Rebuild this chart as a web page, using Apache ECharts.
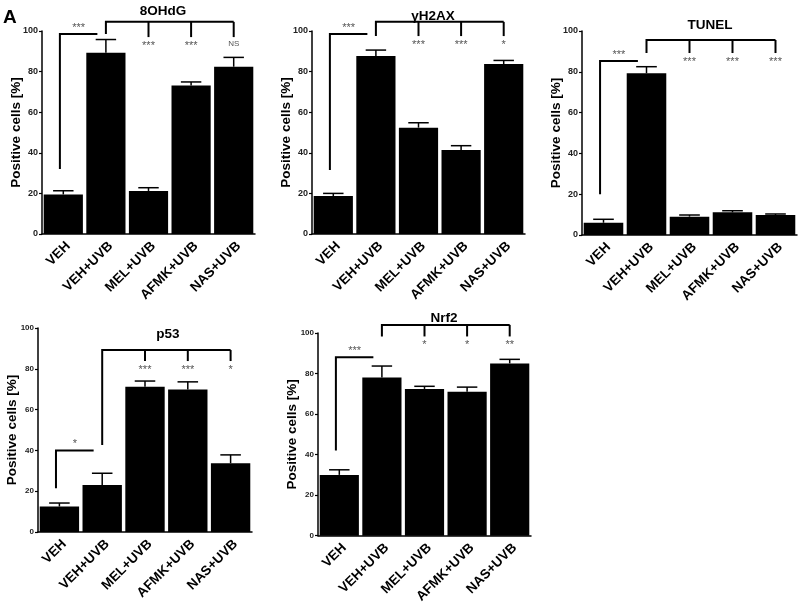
<!DOCTYPE html>
<html><head><meta charset="utf-8">
<script src="https://cdn.jsdelivr.net/npm/echarts@6/dist/echarts.min.js"></script>
<style>html,body{margin:0;padding:0;background:#fff}#c{width:800px;height:606px}</style>
</head><body><div id="c"></div>
<script>
const categories = ['VEH', 'VEH+UVB', 'MEL+UVB', 'AFMK+UVB', 'NAS+UVB'];
const yMin = 0, yMax = 100, yStep = 20;
const yName = 'Positive cells [%]';

const titles = ['8OHdG', 'γH2AX', 'TUNEL', 'p53', 'Nrf2'];

const ohdgMean = [19.5, 89.3, 21.2, 73.2, 82.4];
const ohdgSem  = [1.8, 6.5, 1.6, 1.7, 4.6];
const h2axMean = [18.7, 87.7, 52.4, 41.4, 83.7];
const h2axSem  = [1.3, 2.9, 2.4, 2.1, 1.8];
const tunelMean = [6.0, 79.3, 9.0, 11.1, 9.8];
const tunelSem  = [1.7, 3.2, 0.8, 0.8, 0.5];
const p53Mean = [12.5, 23.1, 71.2, 69.9, 33.7];
const p53Sem  = [1.7, 5.7, 2.8, 3.7, 4.1];
const nrf2Mean = [30.0, 78.0, 72.4, 71.0, 85.0];
const nrf2Sem  = [2.5, 5.7, 1.3, 2.3, 2.0];

// significance brackets (values in y-axis units)
const ohdgSig = [
  {ctrl: 0, targets: [1], low: 32, high: 98.5, labels: ['***']},
  {ctrl: 1, targets: [2, 3, 4], ctrlLow: 98.5, high: 104.5, low: 97, labels: ['***', '***', 'NS']}
];
const h2axSig = [
  {ctrl: 0, targets: [1], low: 31.5, high: 98.5, labels: ['***']},
  {ctrl: 1, targets: [2, 3, 4], ctrlLow: 97.5, high: 104.5, low: 97.5, labels: ['***', '***', '*']}
];
const tunelSig = [
  {ctrl: 0, targets: [1], low: 20, high: 85.3, labels: ['***']},
  {ctrl: 1, targets: [2, 3, 4], ctrlLow: 89.2, high: 95.6, low: 89.2, labels: ['***', '***', '***']}
];
const p53Sig = [
  {ctrl: 0, targets: [1], low: 21.5, high: 39.9, labels: ['*']},
  {ctrl: 1, targets: [2, 3, 4], ctrlLow: 42.7, high: 89.2, low: 83.8, labels: ['***', '***', '*']}
];
const nrf2Sig = [
  {ctrl: 0, targets: [1], low: 42, high: 88, labels: ['***']},
  {ctrl: 1, targets: [2, 3, 4], ctrlLow: 98.3, high: 104, low: 98.3, labels: ['*', '*', '**']}
];

const panels = [
  {mean: ohdgMean, sem: ohdgSem, sig: ohdgSig},
  {mean: h2axMean, sem: h2axSem, sig: h2axSig},
  {mean: tunelMean, sem: tunelSem, sig: tunelSig},
  {mean: p53Mean, sem: p53Sem, sig: p53Sig},
  {mean: nrf2Mean, sem: nrf2Sem, sig: nrf2Sig}
];

// ---- layout / style ----
const FONT = '"Liberation Sans", Arial, sans-serif';
const gridLayout = [
  {left: 42, top: 31, width: 213, height: 203},
  {left: 312, top: 31, width: 213, height: 203},
  {left: 582, top: 31, width: 215, height: 204},
  {left: 38, top: 328, width: 214, height: 204},
  {left: 318, top: 333, width: 213, height: 205}
];
const titleLayout = [
  {x: 163, y: 4}, {x: 433, y: 9}, {x: 710, y: 18.5}, {x: 168, y: 327}, {x: 444, y: 311}
];
const tickFont = [9, 9, 9, 8, 8];

const option = {
  backgroundColor: '#fff',
  animation: false,
  textStyle: {fontFamily: FONT},
  title: [{text: 'A', left: 3, top: 8, padding: 0, textStyle: {fontFamily: FONT, fontSize: 19, fontWeight: 'bold', color: '#000'}}]
    .concat(titles.map((t, i) => ({
      text: t, left: titleLayout[i].x, top: titleLayout[i].y, textAlign: 'center', padding: 0,
      textStyle: {fontFamily: FONT, fontSize: 13.5, fontWeight: 'bold', color: '#000'}
    }))),
  grid: gridLayout.map(g => Object.assign({containLabel: false}, g)),
  xAxis: panels.map((p, i) => ({
    type: 'category', gridIndex: i, data: categories,
    axisLine: {lineStyle: {color: '#000', width: 1.5}},
    axisTick: {alignWithLabel: true, length: 4, lineStyle: {color: '#000', width: 1.2}},
    axisLabel: {interval: 0, rotate: 45, margin: 5, verticalAlign: 'top', fontFamily: FONT, fontSize: 13.5, fontWeight: 'bold', color: '#000'}
  })),
  yAxis: panels.map((p, i) => ({
    type: 'value', gridIndex: i, min: yMin, max: yMax, interval: yStep,
    name: yName, nameLocation: 'middle', nameGap: 18.5, nameMoveOverlap: false,
    nameTextStyle: {fontFamily: FONT, fontSize: 13.5, fontWeight: 'bold', color: '#000'},
    splitLine: {show: false},
    axisLine: {show: true, lineStyle: {color: '#000', width: 1.5}},
    axisTick: {show: true, length: 3, lineStyle: {color: '#000', width: 1.2}},
    axisLabel: {margin: 4, fontFamily: FONT, fontSize: tickFont[i], fontWeight: 'bold', color: '#222'}
  })),
  series: []
};

panels.forEach((p, i) => {
  option.series.push({
    type: 'bar', xAxisIndex: i, yAxisIndex: i, data: p.mean,
    barCategoryGap: '8%', itemStyle: {color: '#000'}, z: 2
  });
  option.series.push({
    type: 'custom', xAxisIndex: i, yAxisIndex: i, z: 3, clip: false,
    data: p.mean.map((m, k) => [k, m, m + p.sem[k]]),
    encode: {x: 0, y: [1, 2]},
    renderItem: function (params, api) {
      const k = api.value(0);
      const a = api.coord([k, api.value(1)]);
      const b = api.coord([k, api.value(2)]);
      const bw = api.size([1, 0])[0];
      const hw = bw * 0.24;
      const st = {stroke: '#000', lineWidth: 1.5};
      return {type: 'group', children: [
        {type: 'line', shape: {x1: a[0], y1: a[1], x2: b[0], y2: b[1]}, style: st},
        {type: 'line', shape: {x1: b[0] - hw, y1: b[1], x2: b[0] + hw, y2: b[1]}, style: st}
      ]};
    }
  });
  const sig = p.sig;
  option.series.push({
    type: 'custom', xAxisIndex: i, yAxisIndex: i, z: 4, clip: false, silent: true,
    data: sig.map(s => [s.ctrl, s.high]),
    encode: {x: 0, y: 1},
    renderItem: function (params, api) {
      const s = sig[params.dataIndex];
      const bw = api.size([1, 0])[0];
      const st = {stroke: '#000', lineWidth: 2, fill: null};
      const lbl = {fill: '#555', fontSize: 11, fontFamily: FONT, textAlign: 'center'};
      const children = [];
      if (s.ctrlLow === undefined) {
        const x0 = api.coord([s.ctrl, 0])[0] - 0.08 * bw;
        const x1 = api.coord([s.targets[0], 0])[0] - 0.2 * bw;
        const yl = api.coord([0, s.low])[1];
        const yh = api.coord([0, s.high])[1];
        children.push({type: 'polyline', shape: {points: [[x0, yl], [x0, yh], [x1, yh]]}, style: st});
        children.push({type: 'text', style: Object.assign({x: (x0 + x1) / 2, y: yh - 1, text: s.labels[0], textVerticalAlign: 'bottom'}, lbl)});
      } else {
        const xc = api.coord([s.ctrl, 0])[0];
        const yc = api.coord([0, s.ctrlLow])[1];
        const yh = api.coord([0, s.high])[1];
        const yl = api.coord([0, s.low])[1];
        const xe = api.coord([s.targets[s.targets.length - 1], 0])[0];
        children.push({type: 'polyline', shape: {points: [[xc, yc], [xc, yh], [xe, yh]]}, style: st});
        s.targets.forEach((t, j) => {
          const xt = api.coord([t, 0])[0];
          children.push({type: 'line', shape: {x1: xt, y1: yh, x2: xt, y2: yl}, style: st});
          const isText = /[A-Za-z]/.test(s.labels[j]);
          children.push({type: 'text', style: Object.assign({x: xt, y: yl + 3, text: s.labels[j], textVerticalAlign: 'top'}, lbl, isText ? {fontSize: 8} : {})});
        });
      }
      return {type: 'group', children: children};
    }
  });
});

const chart = echarts.init(document.getElementById('c'), null, {renderer: 'canvas'});
chart.setOption(option);
</script>
</body></html>
